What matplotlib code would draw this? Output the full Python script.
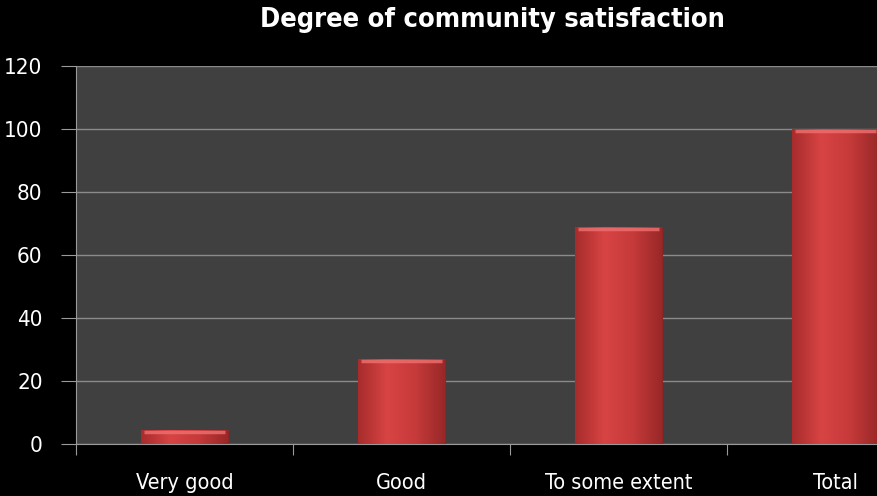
import numpy as np
import matplotlib
matplotlib.use("Agg")
import matplotlib.pyplot as plt
from matplotlib.colors import LinearSegmentedColormap

# data
categories = ["Very good", "Good", "To some extent", "Total"]
values = [4.5, 27, 69, 100]
y_ticks = [0, 20, 40, 60, 80, 100, 120]

# narrow face to mimic the original's condensed font
plt.rcParams['font.family'] = ['DejaVu Sans']
plt.rcParams['font.stretch'] = 'condensed'

fig = plt.figure(figsize=(8.77, 4.96), dpi=100, facecolor='black')
# plot area runs past the right edge like the original
ax = fig.add_axes([76 / 877, 52 / 496, 868 / 877, 378 / 496])
ax.set_facecolor('#404040')

x = np.arange(len(categories))
bars = ax.bar(x, values, width=0.4, color='#c93a3a', edgecolor='#8e2424',
              linewidth=0.8, zorder=3)

# shaded look: horizontal gradient clipped to each bar
cmap = LinearSegmentedColormap.from_list('bar', ['#a82c2c', '#d84444', '#c63a3a', '#9a2828'])
grad = np.linspace(0, 1, 64).reshape(1, -1)
for b in bars:
    x0, w, h = b.get_x(), b.get_width(), b.get_height()
    im = ax.imshow(grad, cmap=cmap, aspect='auto', extent=[x0, x0 + w, 0, h],
                   zorder=3.5, interpolation='bicubic')
    im.set_clip_path(b)
    # top bevel highlight
    ax.plot([x0 + w * 0.03, x0 + w * 0.97], [h - 0.6, h - 0.6], color='#f07070',
            linewidth=2.5, alpha=0.8, zorder=4, solid_capstyle='butt')

ax.set_xlim(-0.5, len(categories) - 0.5)
ax.set_ylim(0, 120)
ax.set_yticks(y_ticks)
ax.yaxis.grid(True, color='#8a8a8a', linewidth=1.0, zorder=1)
ax.set_axisbelow(True)

# category boundary ticks
ax.set_xticks(np.arange(len(categories)) - 0.5, minor=False)
ax.set_xticklabels([])
ax.set_xticks(x, minor=True)
ax.set_xticklabels(categories, minor=True)
ax.tick_params(axis='x', which='major', length=8, color='#9a9a9a', direction='out')
ax.tick_params(axis='x', which='minor', length=0, pad=21, labelsize=15.5, labelcolor='white')
ax.tick_params(axis='y', length=11, color='#9a9a9a', labelsize=16, labelcolor='white', pad=13)

for s in ['top', 'right']:
    ax.spines[s].set_visible(False)
ax.spines['left'].set_color('#9a9a9a')
ax.spines['bottom'].set_color('#9a9a9a')

fig.text(492 / 877, 1 - 20 / 496, 'Degree of community satisfaction', color='white',
         fontsize=19.5, fontweight='bold', ha='center', va='center')

fig.savefig('out.png', dpi=100, facecolor='black')
